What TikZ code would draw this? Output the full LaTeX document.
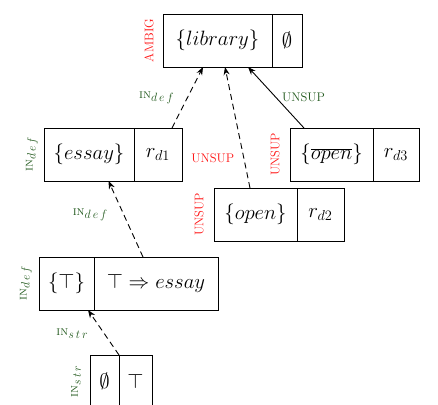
\documentclass[tikz,border=0pt]{standalone}
\usetikzlibrary{arrows.meta}
\definecolor{lblred}{RGB}{255,20,20}
\definecolor{lblgreen}{RGB}{35,90,30}
\newcommand{\INlbl}[1]{{\fontsize{13}{15}\selectfont\textsc{in}}\raisebox{-3pt}{\fontsize{12}{14}\selectfont$#1$}}
\begin{document}
\begin{tikzpicture}[x=1pt,y=-1pt,
  cell/.style={draw, line width=0.8pt, minimum height=53, inner sep=0pt, outer sep=0pt, anchor=north west, font=\fontsize{21}{24}\selectfont},
  dep/.style={-{Stealth[length=8pt,width=6pt]}, line width=0.9pt, dash pattern=on 6pt off 4pt},
  sup/.style={-{Stealth[length=8pt,width=6pt]}, line width=0.9pt},
  redl/.style={text=lblred, font=\fontsize{12.5}{14}\selectfont, inner sep=0pt},
  grnl/.style={text=lblgreen, font=\fontsize{12.5}{14}\selectfont, inner sep=0pt},
  inl/.style={text=lblgreen, inner sep=0pt},
  side/.style={rotate=90}
]
\useasboundingbox (0,0) rectangle (438,404);
% boxes
\node[cell, minimum width=109] (libL) at (163,14) {$\{library\}$};
\node[cell, minimum width=30] (libR) at (libL.north east) {$\emptyset$};
\node[cell, minimum width=90] (essL) at (44,128) {$\{essay\}$};
\node[cell, minimum width=48] (essR) at (essL.north east) {$r_{d1}$};
\node[cell, minimum width=83] (obL) at (290,128) {$\{\overline{open}\}$};
\node[cell, minimum width=46] (obR) at (obL.north east) {$r_{d3}$};
\node[cell, minimum width=83] (opL) at (214,188) {$\{open\}$};
\node[cell, minimum width=47] (opR) at (opL.north east) {$r_{d2}$};
\node[cell, minimum width=55] (teL) at (39,257) {$\{\top\}$};
\node[cell, minimum width=124] (teR) at (teL.north east) {$\top\Rightarrow essay$};
\node[cell, minimum width=29] (botL) at (90,355) {$\emptyset$};
\node[cell, minimum width=33] (botR) at (botL.north east) {$\top$};
% side labels
\node[redl, side] (sAmbig) at ([xshift=-14]libL.west) {AMBIG};
\node[inl, side] (sEss) at ([xshift=-12]essL.west) {\INlbl{d\,e\,f}};
\node[redl, side] (sOb) at ([xshift=-15]obL.west) {UNSUP};
\node[redl, side] (sOp) at ([xshift=-15]opL.west) {UNSUP};
\node[inl, side] (sTe) at ([xshift=-13]teL.west) {\INlbl{d\,e\,f}};
\node[inl, side] (sBot) at ([xshift=-14]botL.west) {\INlbl{s\,t\,r}};
% connectors
\draw[dep] ([xshift=14]essR.north) -- ([xshift=-14.5]libL.south)
  node[midway, inl, xshift=-31] (l1) {\INlbl{d\,e\,f}};
\draw[dep] ([xshift=-5.5]opL.north) -- ([xshift=7.5]libL.south)
  node[pos=0.25, redl, xshift=-31] (l2) {UNSUP};
\draw[sup] ([xshift=-27.5]obL.north) -- ([xshift=30.5]libL.south)
  node[midway, grnl, xshift=27.5] (l3) {UNSUP};
\draw[dep] ([xshift=-13]teR.north) -- ([xshift=19.5]essL.south)
  node[pos=0.55, inl, xshift=-34] (l4) {\INlbl{d\,e\,f}};
\draw[dep] (botL.north east) -- ([xshift=21.5]teL.south)
  node[pos=0.48, inl, xshift=-32] (l5) {\INlbl{s\,t\,r}};
\end{tikzpicture}
\end{document}
